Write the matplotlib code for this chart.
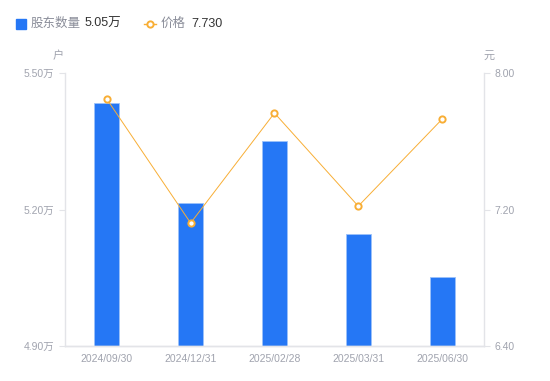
import matplotlib.pyplot as plt
from matplotlib.lines import Line2D

plt.rcParams['font.family'] = ['Liberation Sans', 'Noto Sans CJK SC', 'DejaVu Sans']

dates = ["2024/09/30", "2024/12/31", "2025/02/28", "2025/03/31", "2025/06/30"]
holders = [5.434, 5.214, 5.351, 5.146, 5.052]
prices = [7.848, 7.121, 7.766, 7.220, 7.730]
left_ticks = [4.90, 5.20, 5.50]
right_ticks = [6.40, 7.20, 8.00]

blue = "#2577F5"
orange = "#F8AE35"
grey = "#A0A3AE"
axis_col = "#E3E4E8"

fig = plt.figure(figsize=(5.5, 3.81), dpi=100)
ax = fig.add_axes([0.118, 0.092, 0.762, 0.716])
x = list(range(len(dates)))
ax.bar(x, holders, width=0.3, color=blue, edgecolor="#9CC2FA", linewidth=0.6, zorder=2)
ax.set_xlim(-0.5, 4.5)
ax.set_ylim(4.90, 5.50)
ax.set_yticks(left_ticks)
ax.set_yticklabels([f"{v:.2f}万" for v in left_ticks])
ax.set_xticks(x)
ax.set_xticklabels(dates)

ax2 = ax.twinx()
ax2.plot(x, prices, color=orange, linewidth=0.7, marker="o", markersize=4.5,
         markerfacecolor="white", markeredgecolor=orange, markeredgewidth=1.4, zorder=3)
ax2.set_ylim(6.40, 8.00)
ax2.set_yticks(right_ticks)
ax2.set_yticklabels([f"{v:.2f}" for v in right_ticks])

for a in (ax, ax2):
    a.spines["top"].set_visible(False)
    for s in ("left", "right", "bottom"):
        a.spines[s].set_color(axis_col)
        a.spines[s].set_linewidth(1)
    a.tick_params(colors=grey, labelsize=7.5, length=4, width=0.8)
    a.tick_params(axis="y", color=axis_col)
ax.tick_params(axis="x", length=0, pad=6)
ax2.spines["left"].set_visible(False)
ax.spines["right"].set_visible(False)

fig.text(58 / 550, 1 - 56 / 381, "户", color=grey, fontsize=8, ha="center", va="center")
fig.text(489 / 550, 1 - 56 / 381, "元", color=grey, fontsize=8, ha="center", va="center")

# legend
fig.add_artist(Line2D([21 / 550], [1 - 24 / 381], marker="s", markersize=6.5,
                      color=blue, linestyle="none", transform=fig.transFigure))
fig.text(31 / 550, 1 - 24 / 381, "股东数量", color="#8A8D99", fontsize=9, va="center")
fig.text(85 / 550, 1 - 24 / 381, "5.05万", color="#333333", fontsize=9, va="center")
fig.add_artist(Line2D([144 / 550, 156 / 550], [1 - 24 / 381] * 2, color=orange,
                      linewidth=1, transform=fig.transFigure))
fig.add_artist(Line2D([150 / 550], [1 - 24 / 381], marker="o", markersize=4.5,
                      markerfacecolor="white", markeredgecolor=orange, markeredgewidth=1.4,
                      linestyle="none", transform=fig.transFigure))
fig.text(161 / 550, 1 - 24 / 381, "价格", color="#8A8D99", fontsize=9, va="center")
fig.text(191 / 550, 1 - 24 / 381, "7.730", color="#333333", fontsize=9, va="center")

fig.savefig("out.png", dpi=100)
